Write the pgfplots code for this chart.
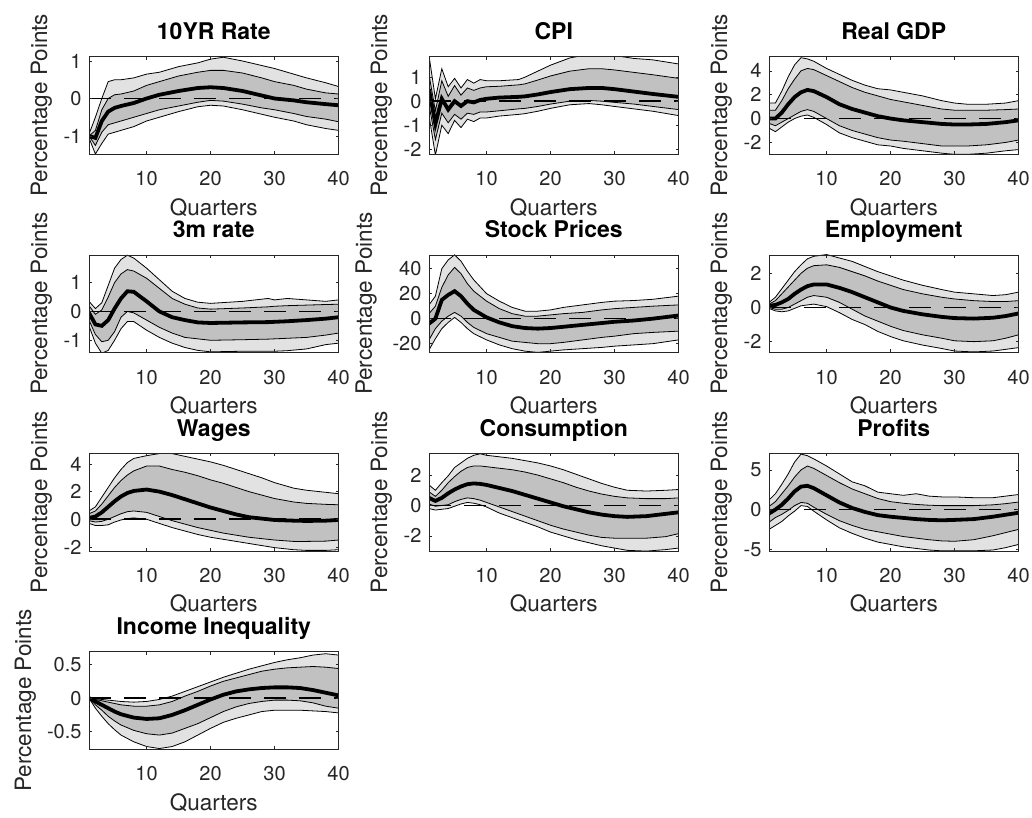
\documentclass[border=0pt]{standalone}
\usepackage{fontspec}
\setmainfont{TeX Gyre Heros}
\usepackage{pgfplots}
\pgfplotsset{compat=1.18}
\usepackage{pgfplotstable}
\usepgfplotslibrary{fillbetween}

\definecolor{outerband}{gray}{0.885}
\definecolor{innerband}{gray}{0.755}
\definecolor{axgray}{gray}{0.15}

\pgfplotsset{
  irf/.style={
    scale only axis, width=249.5pt, height=97.5pt, anchor=south west,
    xmin=1, xmax=40, xtick={10,20,30,40}, xticklabels={10,20,30,40},
    tick align=inside, tick pos=both, major tick length=3pt,
    axis line style={axgray, line width=0.6pt},
    every tick/.style={axgray, line width=0.6pt},
    ticklabel style={font=\fontsize{20}{24}\selectfont, text=axgray},
    xticklabel style={anchor=base, yshift=-31.7pt},
    yticklabel style={xshift=-4pt},
    xlabel={Quarters}, ylabel={Percentage Points},
    label style={font=\fontsize{22.5}{27}\selectfont, text=axgray},
    xlabel style={at={(axis description cs:0.5,0)}, anchor=base, yshift=-61pt},
    ylabel style={at={(axis description cs:-0.168,0.5)}, anchor=base},
    title style={font=\fontsize{23}{27}\selectfont\bfseries, at={(axis description cs:0.5,1)}, anchor=base, yshift=11pt},
    axis on top,
  },
}

\newcommand{\irfplot}[1]{%
  \addplot[draw=none, name path=ou] table[x=x,y=ou] {#1};
  \addplot[draw=none, name path=ol] table[x=x,y=ol] {#1};
  \addplot[fill=outerband, draw=none] fill between[of=ou and ol];
  \addplot[draw=none, name path=iu] table[x=x,y=iu] {#1};
  \addplot[draw=none, name path=il] table[x=x,y=il] {#1};
  \addplot[fill=innerband, draw=none] fill between[of=iu and il];
  \addplot[black, line width=0.8pt] table[x=x,y=ou] {#1};
  \addplot[black, line width=0.8pt] table[x=x,y=ol] {#1};
  \addplot[black, line width=0.8pt] table[x=x,y=iu] {#1};
  \addplot[black, line width=0.8pt] table[x=x,y=il] {#1};
  \addplot[black, line width=1.6pt, dash pattern=on 21.5pt off 13.5pt] coordinates {(1,0) (40,0)};
  \addplot[black, line width=3.8pt] table[x=x,y=m] {#1};
}

\pgfplotstableread{
x ol il m iu ou
1 -1.05 -1.00 -1.00 -1.00 -0.95
2 -1.48 -1.25 -1.05 -0.85 -0.50
3 -1.20 -0.90 -0.60 -0.30 0.00
4 -0.95 -0.70 -0.35 0.00 0.45
5 -0.90 -0.65 -0.25 0.10 0.50
6 -0.85 -0.60 -0.20 0.12 0.50
8 -0.75 -0.50 -0.12 0.20 0.55
10 -0.60 -0.40 0.00 0.35 0.65
12 -0.50 -0.30 0.10 0.45 0.70
15 -0.35 -0.20 0.20 0.60 0.85
18 -0.22 -0.10 0.28 0.70 0.95
20 -0.18 -0.05 0.30 0.75 1.05
22 -0.20 -0.07 0.28 0.75 1.10
25 -0.30 -0.15 0.20 0.68 1.00
28 -0.42 -0.25 0.08 0.55 0.88
30 -0.50 -0.30 0.00 0.45 0.80
33 -0.60 -0.40 -0.05 0.35 0.65
35 -0.70 -0.48 -0.10 0.25 0.55
38 -0.80 -0.55 -0.15 0.15 0.42
40 -0.85 -0.62 -0.18 0.12 0.32
}\tabA

\pgfplotstableread{
x ol il m iu ou
1 -0.60 -0.15 0.50 1.10 1.90
2 -2.25 -1.60 -0.95 -0.40 0.10
3 -1.00 -0.50 0.10 0.85 1.35
4 -1.35 -0.90 -0.35 0.20 0.60
5 -0.80 -0.55 0.00 0.65 0.95
6 -1.10 -0.75 -0.20 0.25 0.55
7 -0.75 -0.50 0.00 0.55 0.90
8 -0.85 -0.55 -0.05 0.45 0.75
9 -0.70 -0.45 0.05 0.55 0.90
10 -0.70 -0.45 0.10 0.60 0.85
12 -0.62 -0.40 0.15 0.62 0.85
15 -0.55 -0.32 0.18 0.68 0.90
16 -0.52 -0.30 0.20 0.72 1.00
18 -0.42 -0.22 0.28 0.88 1.25
20 -0.30 -0.12 0.38 1.05 1.50
23 -0.15 0.00 0.50 1.25 1.80
26 -0.10 0.03 0.55 1.35 1.95
28 -0.15 0.00 0.55 1.35 1.95
30 -0.22 -0.05 0.50 1.30 1.90
33 -0.32 -0.12 0.40 1.20 1.78
36 -0.42 -0.22 0.30 1.10 1.72
40 -0.60 -0.35 0.18 0.95 1.55
}\tabB

\pgfplotstableread{
x ol il m iu ou
1 -0.8 -0.4 0.0 0.7 1.3
2 -1.1 -0.6 0.0 0.7 1.3
3 -0.7 -0.3 0.5 1.5 2.3
4 -0.3 0.0 1.2 2.5 3.5
5 0.0 0.3 1.8 3.3 4.5
6 0.2 0.6 2.2 4.0 5.1
7 0.3 0.75 2.4 4.2 5.0
8 0.1 0.6 2.3 4.1 4.8
10 -0.5 0.0 1.8 3.6 4.2
12 -1.2 -0.6 1.2 3.1 3.7
14 -1.6 -1.0 0.8 2.6 3.2
16 -1.9 -1.3 0.5 2.2 2.8
18 -2.2 -1.6 0.2 1.9 2.5
20 -2.3 -1.8 0.0 1.6 2.4
22 -2.5 -1.9 -0.15 1.4 2.2
25 -2.7 -2.1 -0.3 1.1 1.9
28 -2.9 -2.3 -0.45 0.8 1.5
30 -3.0 -2.3 -0.5 0.7 1.3
32 -3.0 -2.3 -0.5 0.7 1.2
35 -2.9 -2.2 -0.45 0.7 1.2
38 -2.7 -2.0 -0.3 0.75 1.3
40 -2.6 -1.8 -0.15 0.8 1.5
}\tabC

\pgfplotstableread{
x ol il m iu ou
1 -0.50 -0.30 -0.05 0.20 0.35
2 -1.10 -0.80 -0.45 -0.10 0.10
3 -1.45 -1.05 -0.50 0.05 0.30
4 -1.35 -1.00 -0.30 0.50 0.90
5 -1.00 -0.70 0.10 1.00 1.50
6 -0.60 -0.20 0.45 1.30 1.80
7 -0.35 0.00 0.70 1.45 1.95
8 -0.35 -0.05 0.68 1.40 1.85
10 -0.65 -0.30 0.35 1.15 1.50
12 -0.90 -0.55 0.00 0.80 1.10
14 -1.10 -0.75 -0.20 0.45 0.70
16 -1.25 -0.90 -0.30 0.25 0.45
18 -1.35 -0.95 -0.38 0.12 0.32
20 -1.40 -1.00 -0.40 0.08 0.28
25 -1.38 -0.98 -0.38 0.12 0.35
29 -1.38 -0.96 -0.37 0.16 0.45
30 -1.38 -0.95 -0.36 0.18 0.40
32 -1.36 -0.93 -0.34 0.20 0.45
35 -1.30 -0.90 -0.30 0.22 0.40
38 -1.15 -0.82 -0.25 0.24 0.35
40 -1.10 -0.75 -0.20 0.25 0.40
}\tabD

\pgfplotstableread{
x ol il m iu ou
1 -25 -17 -4 4 11
2 -16 -8 0 10 18
3 -8 -2 15 25 40
4 -3 2 19 35 47
5 1 5 22 41 51
6 -3 2 18 36 46
7 -8 -3 12 28 38
8 -12 -7 7 22 31
10 -17 -12 1 14 20
12 -21 -15 -3 8 14
14 -24 -18 -6 4 9
16 -26 -19 -7.5 2 6
18 -27 -20 -8 2 6
20 -26 -20 -7.5 3 7
22 -25 -19 -6.5 4 9
25 -24 -17 -5 5 11
28 -23 -15 -3.5 7 13
30 -22 -14 -2.5 8 14
33 -21 -12 -1.5 9 14.5
36 -20 -11 0 10 15.5
40 -17 -10 2.5 11 18
}\tabE

\pgfplotstableread{
x ol il m iu ou
1 -0.05 0.00 0.10 0.20 0.30
2 -0.20 -0.10 0.15 0.40 0.60
3 -0.25 -0.10 0.30 0.80 1.10
4 -0.20 0.00 0.50 1.20 1.60
5 -0.05 0.20 0.80 1.60 2.10
6 0.10 0.40 1.05 2.00 2.50
7 0.15 0.60 1.25 2.30 2.85
8 0.20 0.70 1.35 2.45 3.00
10 0.05 0.60 1.35 2.50 3.10
12 -0.30 0.30 1.15 2.35 2.90
14 -0.70 -0.10 0.90 2.10 2.70
16 -1.00 -0.50 0.60 1.85 2.40
18 -1.40 -0.80 0.30 1.55 2.10
20 -1.70 -1.10 0.00 1.30 1.85
22 -1.95 -1.35 -0.20 1.05 1.60
25 -2.20 -1.60 -0.40 0.80 1.30
28 -2.40 -1.80 -0.55 0.60 1.05
30 -2.55 -1.95 -0.62 0.50 0.90
33 -2.60 -2.00 -0.65 0.40 0.80
36 -2.55 -1.95 -0.60 0.35 0.70
38 -2.45 -1.80 -0.50 0.35 0.75
40 -2.35 -1.60 -0.35 0.40 0.90
}\tabF

\pgfplotstableread{
x ol il m iu ou
1 -0.30 -0.10 0.10 0.40 0.60
2 -0.45 -0.20 0.20 0.60 0.90
3 -0.45 -0.15 0.50 1.10 1.60
4 -0.40 0.00 0.90 1.70 2.30
5 -0.20 0.20 1.30 2.30 3.00
6 -0.05 0.40 1.65 2.80 3.60
7 0.05 0.55 1.90 3.20 4.10
8 0.10 0.60 2.05 3.50 4.40
10 0.00 0.50 2.15 3.85 4.60
12 -0.30 0.20 2.00 3.85 4.75
14 -0.60 -0.10 1.75 3.60 4.75
16 -0.85 -0.35 1.45 3.40 4.55
18 -1.10 -0.60 1.15 3.15 4.35
20 -1.30 -0.80 0.85 2.85 4.15
22 -1.45 -1.00 0.60 2.60 3.90
24 -1.60 -1.15 0.35 2.30 3.60
26 -1.75 -1.30 0.15 2.00 3.30
28 -1.90 -1.40 0.05 1.75 3.00
30 -2.05 -1.50 -0.05 1.50 2.65
33 -2.20 -1.60 -0.10 1.25 2.25
35 -2.25 -1.60 -0.12 1.15 2.10
38 -2.25 -1.58 -0.10 1.08 1.95
40 -2.20 -1.50 -0.05 1.05 1.85
}\tabG

\pgfplotstableread{
x ol il m iu ou
1 -0.20 0.10 0.50 0.90 1.35
2 -0.30 -0.05 0.30 0.60 1.00
3 -0.25 0.00 0.50 1.00 1.50
4 -0.20 0.05 0.80 1.50 1.95
5 -0.05 0.25 1.05 1.90 2.50
6 0.10 0.40 1.25 2.25 2.80
7 0.20 0.50 1.40 2.50 3.10
8 0.15 0.45 1.45 2.60 3.30
9 0.05 0.35 1.42 2.60 3.40
10 -0.10 0.20 1.35 2.55 3.30
12 -0.50 -0.10 1.15 2.45 3.20
14 -0.80 -0.40 0.95 2.35 3.10
16 -1.10 -0.70 0.70 2.20 2.95
18 -1.40 -1.00 0.45 2.00 2.80
20 -1.75 -1.30 0.20 1.75 2.60
22 -2.00 -1.55 -0.05 1.50 2.35
24 -2.25 -1.75 -0.25 1.20 2.05
26 -2.45 -1.95 -0.45 0.95 1.75
28 -2.65 -2.10 -0.60 0.75 1.45
30 -2.80 -2.15 -0.70 0.60 1.20
32 -2.95 -2.15 -0.75 0.50 1.00
35 -3.00 -2.15 -0.70 0.45 0.95
38 -2.90 -2.05 -0.55 0.45 1.00
40 -2.80 -1.85 -0.45 0.50 1.05
}\tabH

\pgfplotstableread{
x ol il m iu ou
1 -2.5 -1.6 -0.5 0.4 1.2
2 -2.0 -1.0 0.0 1.0 2.0
3 -1.5 -0.6 0.6 2.0 3.2
4 -0.8 -0.1 1.4 3.0 4.5
5 -0.2 0.5 2.3 4.1 6.0
6 0.5 0.9 2.9 5.0 7.0
7 0.4 0.8 3.0 5.5 6.8
8 -0.2 0.3 2.7 5.2 6.4
10 -1.3 -0.6 1.8 4.3 5.5
12 -2.3 -1.4 0.9 3.4 4.5
14 -3.0 -2.0 0.2 2.6 3.5
16 -3.6 -2.5 -0.3 2.0 3.0
18 -4.1 -2.8 -0.7 1.4 2.2
20 -4.4 -3.1 -0.9 1.0 2.0
22 -4.7 -3.4 -1.05 0.8 1.8
24 -4.9 -3.6 -1.2 0.65 2.0
26 -5.1 -3.8 -1.3 0.55 1.7
28 -5.2 -3.95 -1.35 0.5 1.6
30 -5.2 -4.0 -1.3 0.5 1.6
33 -5.2 -3.8 -1.2 0.5 1.5
36 -5.1 -3.3 -0.9 0.6 1.5
38 -4.8 -2.9 -0.65 0.75 1.7
40 -4.4 -2.5 -0.4 0.95 1.9
}\tabI

\pgfplotstableread{
x ol il m iu ou
1 0.00 0.00 0.00 0.00 0.00
2 -0.15 -0.10 -0.05 -0.02 -0.01
3 -0.27 -0.18 -0.10 -0.04 -0.02
4 -0.38 -0.27 -0.15 -0.06 -0.03
5 -0.47 -0.34 -0.20 -0.08 -0.04
6 -0.55 -0.40 -0.24 -0.10 -0.05
8 -0.65 -0.48 -0.29 -0.12 -0.06
10 -0.72 -0.53 -0.31 -0.12 -0.05
12 -0.75 -0.55 -0.30 -0.10 -0.02
14 -0.72 -0.52 -0.25 -0.05 0.03
16 -0.65 -0.45 -0.18 0.03 0.10
18 -0.55 -0.38 -0.10 0.10 0.17
20 -0.45 -0.29 -0.02 0.18 0.24
22 -0.36 -0.20 0.05 0.25 0.31
24 -0.30 -0.13 0.10 0.30 0.37
26 -0.25 -0.08 0.13 0.35 0.43
28 -0.20 -0.05 0.15 0.40 0.48
30 -0.18 -0.03 0.16 0.43 0.53
32 -0.18 -0.03 0.16 0.45 0.57
34 -0.18 -0.04 0.15 0.46 0.60
36 -0.19 -0.07 0.12 0.47 0.64
38 -0.20 -0.12 0.08 0.46 0.66
40 -0.22 -0.15 0.04 0.44 0.64
}\tabJ

\begin{document}
\begin{tikzpicture}
% Row 1
\begin{axis}[irf, at={(89pt,-154pt)}, title={10YR Rate},
  ymin=-1.48, ymax=1.12, ytick={-1,0,1}, yticklabels={-1,0,1}]
\irfplot{\tabA}
\end{axis}
\begin{axis}[irf, at={(429pt,-154pt)}, title={CPI},
  ymin=-2.2, ymax=1.86, ytick={-2,-1,0,1}, yticklabels={-2,-1,0,1}]
\irfplot{\tabB}
\end{axis}
\begin{axis}[irf, at={(769pt,-154pt)}, title={Real GDP},
  ymin=-2.97, ymax=5.2, ytick={-2,0,2,4}, yticklabels={-2,0,2,4}]
\irfplot{\tabC}
\end{axis}
% Row 2
\begin{axis}[irf, at={(89pt,-352.4pt)}, title={3m rate},
  ymin=-1.42, ymax=1.96, ytick={-1,0,1}, yticklabels={-1,0,1}]
\irfplot{\tabD}
\end{axis}
\begin{axis}[irf, at={(429pt,-352.4pt)}, title={Stock Prices},
  ymin=-27, ymax=51, ytick={-20,0,20,40}, yticklabels={-20,0,20,40},
  ylabel style={at={(axis description cs:-0.2285,0.5)}}]
\irfplot{\tabE}
\end{axis}
\begin{axis}[irf, at={(769pt,-352.4pt)}, title={Employment},
  ymin=-2.63, ymax=3.08, ytick={-2,0,2}, yticklabels={-2,0,2}]
\irfplot{\tabF}
\end{axis}
% Row 3
\begin{axis}[irf, at={(89pt,-550.8pt)}, title={Wages},
  ymin=-2.28, ymax=4.77, ytick={-2,0,2,4}, yticklabels={-2,0,2,4}]
\irfplot{\tabG}
\end{axis}
\begin{axis}[irf, at={(429pt,-550.8pt)}, title={Consumption},
  ymin=-2.98, ymax=3.43, ytick={-2,0,2}, yticklabels={-2,0,2}]
\irfplot{\tabH}
\end{axis}
\begin{axis}[irf, at={(769pt,-550.8pt)}, title={Profits},
  ymin=-5.2, ymax=7.1, ytick={-5,0,5}, yticklabels={-5,0,5}]
\irfplot{\tabI}
\end{axis}
% Row 4
\begin{axis}[irf, at={(89pt,-749.2pt)}, title={Income Inequality},
  ymin=-0.76, ymax=0.69, ytick={-0.5,0,0.5}, yticklabels={-0.5,0,0.5},
  ylabel style={at={(axis description cs:-0.232,0.5)}}]
\irfplot{\tabJ}
\end{axis}
\pgfresetboundingbox
\path (0,0) rectangle (1032pt,-817pt);
\end{tikzpicture}
\end{document}
